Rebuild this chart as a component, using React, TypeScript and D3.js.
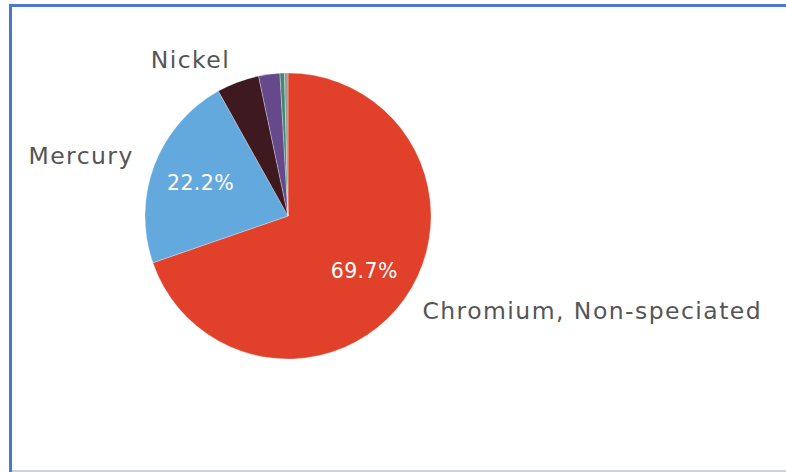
import React from "react";
import * as d3 from "d3";

const categories = ["Chromium, Non-speciated", "Mercury", "Nickel", "Other A", "Other B", "Other C"];
const values = [69.7, 22.2, 4.8, 2.4, 0.5, 0.4];
const colors = ["#E1402A", "#64A9DE", "#3E1A20", "#66498A", "#3D8A6C", "#9A9A9A"];
const outerLabels = ["Chromium, Non-speciated", "Mercury", "Nickel"];
const innerLabels = ["69.7%", "22.2%"];

const W = 786;
const H = 472;

export default function App() {
  const cx = 288;
  const cy = 216;
  const r = 143;
  const data = categories.map((c, i) => ({ c, v: values[i], i }));
  const pie = d3.pie<any>().sort(null).value((d) => d.v);
  const arcs = pie(data);
  const arc = d3.arc<any>().innerRadius(0).outerRadius(r);
  const labelR = r + 22;
  const innerR = r * 0.655;
  return (
    <svg width={W} height={H} style={{ position: "absolute", left: 0, top: 0, background: "#fff" }}>
      <rect x={9} y={4} width={W - 9} height={3} fill="#4A78CF" />
      <rect x={9} y={4} width={3} height={H - 4} fill="#4A78CF" />
      <rect x={12} y={470} width={W - 12} height={2} fill="#CDD1DC" />
      <g transform={`translate(${cx},${cy})`}>
        {arcs.map((a, i) => (
          <path key={i} d={arc(a) as string} fill={colors[i]} stroke="#fff" strokeWidth={0.3} />
        ))}
        {arcs.map((a, i) => {
          if (i >= innerLabels.length) return null;
          const m = (a.startAngle + a.endAngle) / 2;
          return (
            <text
              key={"in" + i}
              x={innerR * Math.sin(m)}
              y={-innerR * Math.cos(m)}
              dy="0.35em"
              textAnchor="middle"
              fill="#fff"
              fontFamily="DejaVu Sans, sans-serif"
              fontSize={20.5}
              letterSpacing={0.4}
            >
              {innerLabels[i]}
            </text>
          );
        })}
        {arcs.map((a, i) => {
          if (i >= outerLabels.length) return null;
          const m = (a.startAngle + a.endAngle) / 2;
          const x = labelR * Math.sin(m);
          const y = -labelR * Math.cos(m) + 7;
          return (
            <text
              key={"out" + i}
              x={x}
              y={y}
              textAnchor={x > 0 ? "start" : "end"}
              fill="#555555"
              fontFamily="DejaVu Sans, sans-serif"
              fontSize={23.5}
              letterSpacing={1.45}
            >
              {outerLabels[i]}
            </text>
          );
        })}
      </g>
    </svg>
  );
}
